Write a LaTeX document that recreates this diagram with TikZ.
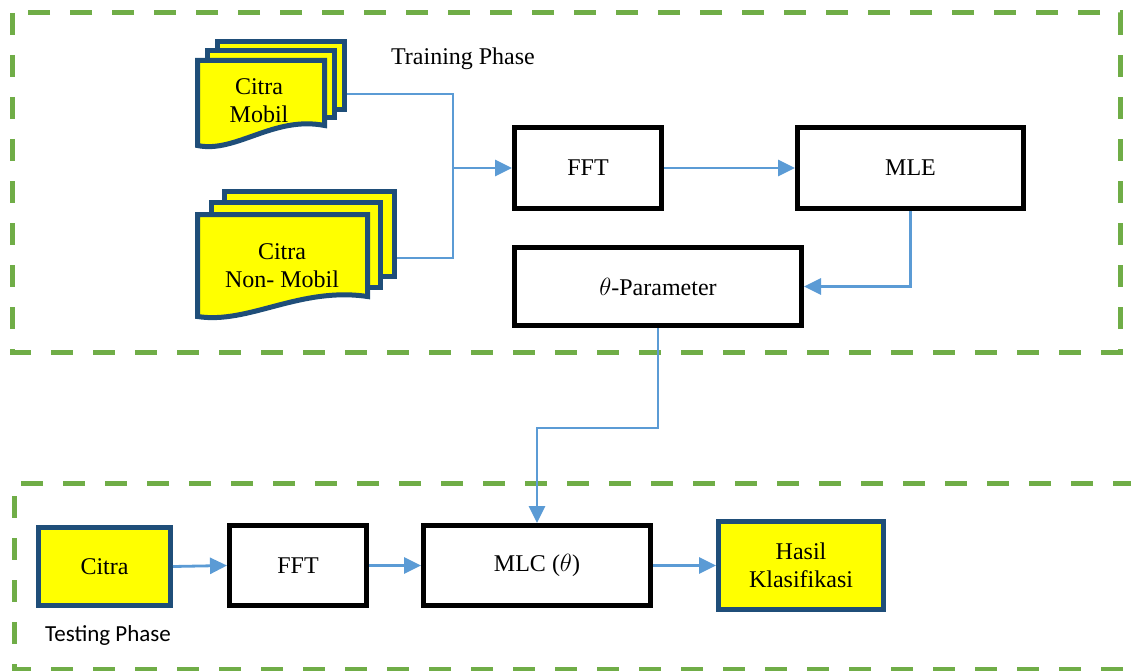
\documentclass[tikz,border=0pt]{standalone}
\usepackage{fontspec}
\setmainfont{Liberation Serif}
\newfontfamily\phasefont{Carlito}
\usetikzlibrary{arrows.meta}

\definecolor{phasegreen}{RGB}{112,173,71}
\definecolor{docblue}{RGB}{31,78,121}
\definecolor{flowblue}{RGB}{91,155,213}
\definecolor{docyellow}{RGB}{255,255,0}

\tikzset{
  phasebox/.style={draw=phasegreen, line width=5pt, dash pattern=on 22pt off 20pt},
  procbox/.style={draw=black, line width=5pt, fill=white, inner sep=0pt},
  inbox/.style={draw=docblue, line width=5pt, fill=docyellow, inner sep=0pt, align=center},
  docpage/.style={draw=docblue, line width=5pt, fill=docyellow, line join=miter},
  flow/.style={draw=flowblue, line width=2.8pt},
  flowarrow/.style={flow, -{Triangle[length=17pt,width=16pt]}}
}

% page of a stacked document: #1 top left, #2 width, #3 height
\newcommand{\docpage}[3]{%
  \draw[docpage, shift={#1}] (0,0) -- (#2,0) -- (#2,#3-20) .. controls (0.6*#2,#3-30) and (0.3*#2,#3+8) .. (0,#3) -- cycle;}

\begin{document}
\begin{tikzpicture}[x=1pt,y=1pt,yscale=-1,font=\fontsize{24}{28}\selectfont]
				\useasboundingbox (0,0) rectangle (1131,671);

				%Shape: Training Phase frame
				\draw[phasebox] (12,13) rectangle (1120,352);
				%Shape: Testing Phase frame (open at the right)
				\draw[phasebox] (1135,483) -- (14,483) -- (14,669) -- (1135,669);

				% Text Node
				\node (train) at (463,59) {Training Phase};
				% Text Node
				\node[font=\phasefont\fontsize{23}{27}\selectfont] (test) at (108,635) {Testing Phase};

				%Shape: Multidocument Citra Mobil
				\draw[docpage] (217.5,41.5) rectangle (344.5,110);
				\draw[docpage] (207.5,50.5) rectangle (334.5,118);
				\docpage{(197.5,60.5)}{127}{85}
				\node[align=center] (mobil) at (259,101) {Citra\\Mobil};
				\coordinate (mobilout) at (347,94);

				%Shape: Multidocument Citra Non- Mobil
				\draw[docpage] (224.5,191.5) rectangle (394.5,276);
				\draw[docpage] (211.5,202.5) rectangle (380.5,287);
				\docpage{(197.5,214.5)}{170}{102}
				\node[align=center] (nonmobil) at (282,266) {Citra\\Non- Mobil};
				\coordinate (nonmobilout) at (397,258);

				% Training Phase blocks
				\node[procbox, minimum width=147pt, minimum height=81pt] (fft) at (588,168) {FFT};
				\node[procbox, minimum width=226pt, minimum height=81pt] (mle) at (910.5,168) {MLE};
				\node[procbox, minimum width=287pt, minimum height=78pt] (theta) at (658,286.5) {$\theta$-Parameter};

				% Testing Phase blocks
				\node[inbox, minimum width=132pt, minimum height=78pt] (citra) at (104.5,566.5) {Citra};
				\node[procbox, minimum width=137pt, minimum height=80pt] (ffttest) at (298,565.5) {FFT};
				\node[procbox, minimum width=227pt, minimum height=80pt] (mlc) at (537,565.5) {MLC ($\theta$)};
				\node[inbox, minimum width=165pt, minimum height=88pt] (hasil) at (801,565.5) {Hasil\\Klasifikasi};

				%Straight Lines
				\coordinate (join) at (453,168);
				\draw[flow] (mobilout) -| (join);
				\draw[flow] (nonmobilout) -| (join);
				\draw[flowarrow] (join) -- (fft.west);
				\draw[flowarrow] (fft.east) -- (mle.west);
				\draw[flowarrow] (mle.south) |- (theta.east);
				\coordinate (turn) at (658,428);
				\draw[flowarrow] (theta.south) -- (turn) -| (mlc.north);
				\draw[flowarrow] (citra.east) -- (ffttest.west);
				\draw[flowarrow] (ffttest.east) -- (mlc.west);
				\draw[flowarrow] (mlc.east) -- (hasil.west);

\end{tikzpicture}
\end{document}
